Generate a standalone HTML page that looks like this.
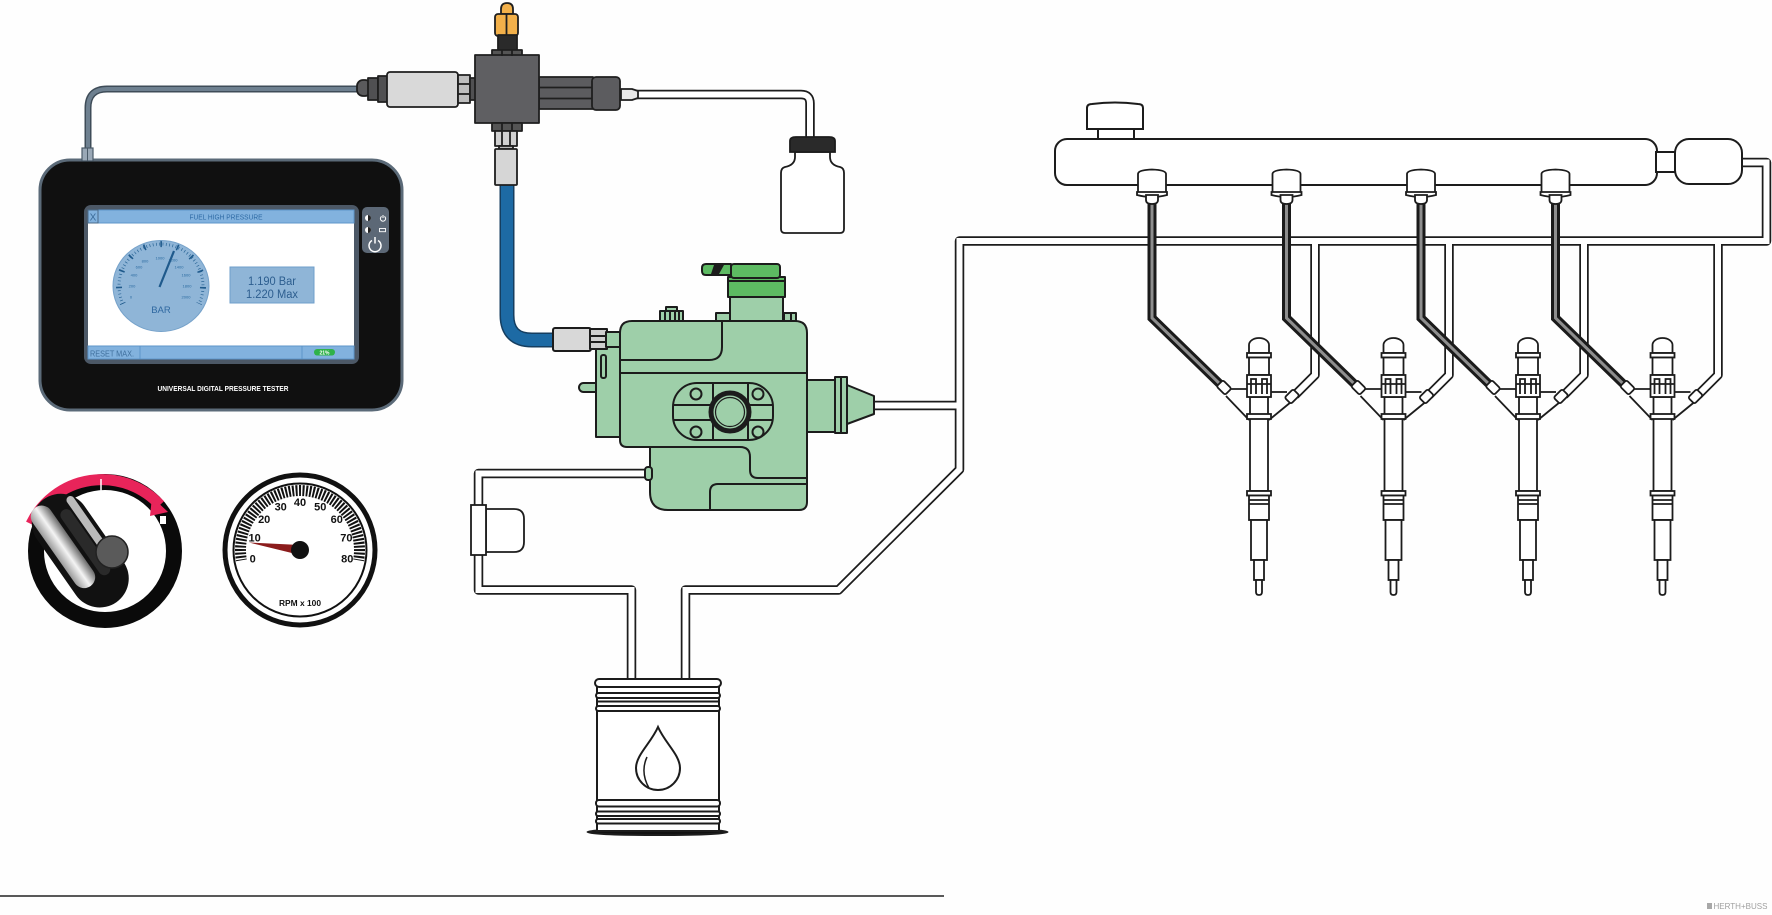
<!DOCTYPE html>
<html><head><meta charset="utf-8">
<style>
html,body{margin:0;padding:0;background:#fefefe;}
svg{display:block;}
text{font-family:"Liberation Sans",sans-serif;}
</style></head>
<body>
<svg width="1772" height="915" viewBox="0 0 1772 915" xmlns="http://www.w3.org/2000/svg">
<defs>
<linearGradient id="kg" x1="0" y1="0" x2="1" y2="0">
<stop offset="0" stop-color="#9a9a9a"/><stop offset="0.5" stop-color="#f4f4f4"/><stop offset="1" stop-color="#6a6a6a"/>
</linearGradient>
</defs>
<rect width="1772" height="915" fill="#fefefe"/>

<!-- ===== cable from tester ===== -->
<path d="M88 150 L88 108 Q88 89 107 89 L360 89" fill="none" stroke="#3e4c58" stroke-width="7"/>
<path d="M88 150 L88 108 Q88 89 107 89 L360 89" fill="none" stroke="#6e8090" stroke-width="4"/>

<!-- ===== tester ===== -->
<rect x="40" y="160" width="362" height="250" rx="30" fill="#101010" stroke="#5b6a78" stroke-width="3"/>
<rect x="82" y="148" width="11" height="13" fill="#9aa8b6" stroke="#4a5a68" stroke-width="1.2"/>
<line x1="87.5" y1="148" x2="87.5" y2="161" stroke="#4a5a68" stroke-width="1"/>
<rect x="84" y="205" width="275" height="159" rx="7" fill="#4c5866"/>
<rect x="88" y="210" width="266" height="149" fill="#fff"/>
<rect x="88" y="210" width="266" height="13" fill="#82b2de" stroke="#5d95c9" stroke-width="1"/>
<rect x="88" y="210" width="10" height="13" fill="#82b2de" stroke="#4a6b8a" stroke-width="1"/>
<text x="93" y="220.5" font-size="10" fill="#3a6a98" text-anchor="middle">X</text>
<text x="226" y="219.5" font-size="7.2" fill="#2e6aa4" text-anchor="middle" textLength="73" lengthAdjust="spacingAndGlyphs">FUEL HIGH PRESSURE</text>
<rect x="88" y="346" width="266" height="13" fill="#82b2de" stroke="#5d95c9" stroke-width="1"/>
<line x1="140" y1="346" x2="140" y2="359" stroke="#5d95c9"/>
<line x1="302" y1="346" x2="302" y2="359" stroke="#5d95c9"/>
<text x="90" y="356.5" font-size="8.5" fill="#3f6f9c" textLength="44" lengthAdjust="spacingAndGlyphs">RESET MAX.</text>
<rect x="314" y="349" width="21" height="6.5" rx="3.2" fill="#2fb24a"/>
<text x="324.5" y="354.4" font-size="5" fill="#fff" text-anchor="middle" font-weight="bold">21%</text>
<!-- screen gauge -->
<ellipse cx="161" cy="286" rx="48" ry="45.5" fill="#8fb5d7" stroke="#76a2ca" stroke-width="1"/>
<path d="M122.9 303.75 A42 42 0 1 1 199.1 303.75" fill="none" stroke="#2a6596" stroke-width="3" stroke-dasharray="0.7 2.6"/>
<path d="M122.9 303.75 A42 42 0 1 1 199.1 303.75" fill="none" stroke="#1f5a8c" stroke-width="6" stroke-dasharray="1.6 15.26" stroke-dashoffset="0.8"/>
<g font-size="4" fill="#2a6aa0" text-anchor="middle">
<text x="131" y="298.5">0</text><text x="132" y="287.5">200</text><text x="134" y="276.5">400</text>
<text x="139" y="268.5">600</text><text x="145" y="262.5">800</text><text x="160" y="259.5">1000</text>
<text x="173" y="261.5">1200</text><text x="179" y="268.5">1400</text><text x="186" y="276.5">1600</text>
<text x="187" y="287.5">1800</text><text x="186" y="298.5">2000</text>
</g>
<line x1="159.5" y1="287" x2="174" y2="251" stroke="#1f5a8c" stroke-width="2.2"/>
<text x="161" y="313" font-size="9.5" fill="#2f68a0" text-anchor="middle">BAR</text>
<rect x="230" y="267" width="84" height="36" fill="#8fb5d7" stroke="#6f9fcb" stroke-width="1"/>
<text x="272" y="285" font-size="11.5" fill="#2d5e8f" text-anchor="middle" textLength="48" lengthAdjust="spacingAndGlyphs">1.190 Bar</text>
<text x="272" y="298" font-size="11.5" fill="#2d5e8f" text-anchor="middle" textLength="52" lengthAdjust="spacingAndGlyphs">1.220 Max</text>
<!-- side panel -->
<rect x="362" y="207" width="27" height="46" rx="5" fill="#5c6876"/>
<circle cx="368" cy="218" r="3" fill="#fff"/><path d="M368 215 A3 3 0 0 1 368 221 Z" fill="#222"/>
<circle cx="368" cy="230" r="3" fill="#fff"/><path d="M368 227 A3 3 0 0 1 368 233 Z" fill="#222"/>
<path d="M381.6 216.4 A2.6 2.6 0 1 0 384.4 216.4" fill="none" stroke="#fff" stroke-width="1"/>
<line x1="383" y1="215" x2="383" y2="218" stroke="#fff" stroke-width="1"/>
<rect x="379.5" y="228.5" width="6" height="3.2" fill="none" stroke="#fff" stroke-width="0.9"/>
<path d="M372 240.5 A6 6 0 1 0 378 240.5" fill="none" stroke="#fff" stroke-width="1.5"/>
<line x1="375" y1="237" x2="375" y2="243.5" stroke="#fff" stroke-width="1.5"/>
<text x="223" y="391" font-size="7.5" fill="#fff" font-weight="bold" text-anchor="middle" textLength="131" lengthAdjust="spacingAndGlyphs">UNIVERSAL DIGITAL PRESSURE TESTER</text>

<!-- ===== blue hose ===== -->
<path d="M507 183 L507 315 Q507 340 532 340 L556 340" fill="none" stroke="#153e60" stroke-width="15"/>
<path d="M507 183 L507 315 Q507 340 532 340 L556 340" fill="none" stroke="#1d6aa4" stroke-width="12"/>

<!-- ===== white tubes (return network) ===== -->
<g fill="none" stroke="#1c1c1c" stroke-width="9.5" stroke-linejoin="round">
<path d="M636 94.5 L801 94.5 Q810 94.5 810 103.5 L810 139"/>
<path d="M648 473.5 L478.5 473.5 L478.5 590 L631.5 590 L631.5 681"/>
<path d="M685.5 681 L685.5 590 L838.5 590 L959.5 469.5 L959.5 241 L1766.5 241 L1766.5 162.5 L1740 162.5"/>
<path d="M874 405.5 L959.5 405.5"/>
<path d="M1315 241 L1315 375 L1295 395"/>
<path d="M1449 241 L1449 375 L1429 395"/>
<path d="M1584 241 L1584 375 L1564 395"/>
<path d="M1718 241 L1718 375 L1698 395"/>
</g>
<g fill="none" stroke="#fff" stroke-width="6" stroke-linejoin="miter">
<path d="M636 94.5 L801 94.5 Q810 94.5 810 103.5 L810 139"/>
<path d="M648 473.5 L478.5 473.5 L478.5 590 L631.5 590 L631.5 681"/>
<path d="M685.5 681 L685.5 590 L838.5 590 L959.5 469.5 L959.5 241 L1766.5 241 L1766.5 162.5 L1740 162.5"/>
<path d="M874 405.5 L959.5 405.5"/>
<path d="M1315 241 L1315 375 L1295 395"/>
<path d="M1449 241 L1449 375 L1429 395"/>
<path d="M1584 241 L1584 375 L1564 395"/>
<path d="M1718 241 L1718 375 L1698 395"/>
</g>

<!-- filter on return line -->
<g stroke="#1c1c1c" stroke-width="1.8" fill="#fff">
<path d="M486 509 L514 509 Q524 509 524 519 L524 542 Q524 552 514 552 L486 552 Z"/>
<rect x="471" y="505" width="15" height="50"/>
</g>

<!-- ===== T-block ===== -->
<g stroke="#1f1f1f" stroke-width="1.8" stroke-linejoin="round">
<path d="M507 3 Q513 3 513 9 L513 14 L501 14 L501 9 Q501 3 507 3 Z" fill="#f2b04a"/>
<rect x="495" y="14" width="23" height="22" rx="3" fill="#f2b04a"/>
<line x1="506.5" y1="14" x2="506.5" y2="36"/>
<rect x="498" y="35" width="19" height="15" fill="#2a2a2a"/>
<rect x="492" y="50" width="30" height="6" fill="#555"/>
<rect x="357" y="80" width="14" height="16" rx="6" fill="#5a5a5c"/>
<rect x="368" y="78" width="10" height="22" fill="#505052"/>
<rect x="378" y="76" width="10" height="26" fill="#505052"/>
<rect x="387" y="72" width="71" height="35" rx="3" fill="#d9d9d9"/>
<rect x="458" y="75" width="12" height="28" fill="#bdbdbd"/>
<line x1="458" y1="84" x2="470" y2="84"/><line x1="458" y1="94" x2="470" y2="94"/>
<rect x="470" y="78" width="6" height="22" fill="#505052"/>
<rect x="539" y="77" width="54" height="32" fill="#5c5c5f"/>
<line x1="539" y1="87.5" x2="593" y2="87.5"/><line x1="539" y1="98.5" x2="593" y2="98.5"/>
<rect x="592" y="77" width="28" height="33" rx="4" fill="#5c5c5f"/>
<path d="M621 89 L632 89 L638 91 L638 98 L632 100 L621 100 Z" fill="#e8e8e8"/>
<rect x="475" y="55" width="64" height="68" fill="#5f5f62"/>
<rect x="492" y="123" width="30" height="8" fill="#555"/>
<line x1="502" y1="123" x2="502" y2="131"/><line x1="512" y1="123" x2="512" y2="131"/>
<line x1="502" y1="50" x2="502" y2="56"/><line x1="512" y1="50" x2="512" y2="56"/>
<rect x="495" y="131" width="22" height="15" fill="#d0d0d0"/>
<line x1="502" y1="131" x2="502" y2="146"/><line x1="510" y1="131" x2="510" y2="146"/>
<rect x="499" y="146" width="14" height="3" fill="#bbb"/>
<rect x="495" y="149" width="22" height="36" rx="1" fill="#d6d6d6"/>
</g>

<!-- bottle -->
<g stroke="#1c1c1c" stroke-width="1.8">
<path d="M795 152 L795 157 Q795 165 785 167 Q781 168 781 173 L781 229 Q781 233 785 233 L840 233 Q844 233 844 229 L844 173 Q844 168 840 167 Q830 165 830 157 L830 152 Z" fill="#fff"/>
<path d="M790 152 L790 141 Q790 137 796 137 L829 137 Q835 137 835 141 L835 152 Z" fill="#2a2a2a"/>
</g>

<!-- ===== pump ===== -->
<g stroke="#1c1c1c" stroke-width="2" stroke-linejoin="round" fill="#9ecfa9">
<rect x="579" y="383" width="44" height="9" rx="4.5"/>
<path d="M620 342 L603 342 Q596 342 596 349 L596 437 L620 437 Z"/>
<rect x="601" y="355" width="5" height="23" rx="2"/>
<rect x="553" y="328" width="38" height="23" rx="2" fill="#d8d8d8"/>
<rect x="590" y="329" width="17" height="20" fill="#cfcfcf"/>
<line x1="590" y1="336" x2="607" y2="336"/><line x1="590" y1="342" x2="607" y2="342"/>
<rect x="606" y="332" width="15" height="15"/>
<!-- bolts -->
<rect x="666" y="307" width="11" height="6"/>
<rect x="660" y="311" width="23" height="11"/>
<line x1="665" y1="311" x2="665" y2="321"/><line x1="670" y1="311" x2="670" y2="321"/><line x1="675" y1="311" x2="675" y2="321"/><line x1="679" y1="311" x2="679" y2="321"/>
<rect x="716" y="313" width="15" height="9"/>
<rect x="779" y="313" width="17" height="9"/>
<line x1="784" y1="313" x2="784" y2="321"/><line x1="791" y1="313" x2="791" y2="321"/>
<!-- neck & cap -->
<rect x="730" y="295" width="53" height="27"/>
<rect x="728" y="277" width="57" height="20" fill="#5dba62"/>
<line x1="728" y1="281" x2="785" y2="281"/>
<rect x="731" y="264" width="49" height="14" rx="3" fill="#5dba62"/>
<path d="M706 264 Q702 264 702 268 L702 271 Q702 275 706 275 L731 275 L731 264 Z" fill="#5dba62"/>
<path d="M714 265 L724 265 L719 274 L711 274 Z" fill="#1c1c1c" stroke="none"/>
<!-- body -->
<path d="M620 333 Q620 321 632 321 L795 321 Q807 321 807 333 L807 502 Q807 510 799 510 L668 510 Q650 510 650 492 L650 447 L627 447 Q620 447 620 440 Z"/>
<path d="M620 373 L807 373" fill="none"/>
<path d="M722 321 L722 347 Q722 360 709 360 L620 360" fill="none"/>
<path d="M650 447 L740 447 Q750 447 750 457 L750 470 Q750 478 758 478 L807 478" fill="none"/>
<path d="M710 510 L710 492 Q710 484 718 484 L807 484" fill="none"/>
<!-- flange plate -->
<rect x="673" y="383" width="100" height="57" rx="24"/>
<line x1="713" y1="383" x2="713" y2="440"/><line x1="748" y1="383" x2="748" y2="440"/>
<line x1="673" y1="405" x2="713" y2="405"/><line x1="673" y1="420" x2="713" y2="420"/>
<line x1="748" y1="405" x2="773" y2="405"/><line x1="748" y1="420" x2="773" y2="420"/>
<circle cx="696" cy="394" r="5.5"/><circle cx="758" cy="394" r="5.5"/>
<circle cx="696" cy="432" r="5.5"/><circle cx="758" cy="432" r="5.5"/>
<circle cx="730" cy="412" r="19" stroke-width="5"/>
<circle cx="730" cy="412" r="14.5" stroke-width="1.2"/>
<!-- right nose -->
<rect x="807" y="380" width="28" height="52"/>
<rect x="835" y="377" width="12" height="56"/>
<line x1="841" y1="377" x2="841" y2="433"/>
<path d="M847 385 L874 396 L874 414 L847 424 Z"/>
<rect x="645" y="467" width="7" height="13" rx="3"/>
</g>

<!-- ===== tank ===== -->
<g stroke="#1c1c1c" stroke-width="2" fill="#fff">
<ellipse cx="657.5" cy="832" rx="70" ry="3" fill="#111"/>
<rect x="597" y="685" width="122" height="146"/>
<rect x="595" y="679" width="126" height="8" rx="4"/>
<rect x="596" y="693" width="124" height="5" rx="2.5"/>
<line x1="597" y1="701.5" x2="719" y2="701.5"/>
<rect x="596" y="706" width="124" height="5" rx="2.5"/>
<rect x="596" y="800" width="124" height="6.5" rx="3"/>
<rect x="596" y="811.5" width="124" height="4.5" rx="2"/>
<rect x="596" y="819" width="124" height="4.5" rx="2"/>
<path d="M658 727 C651 743 636 755 636 768 A22 22 0 0 0 680 768 C680 755 665 743 658 727 Z"/>
<path d="M647 757 Q640 772 649 788" fill="none" stroke-width="1.5"/>
</g>

<!-- ===== rail ===== -->
<g stroke="#1c1c1c" stroke-width="2" fill="#fff">
<path d="M1087 129 L1087 108 Q1087 104 1092 104 Q1115 101 1138 104 Q1143 104 1143 108 L1143 129 Z"/>
<rect x="1098" y="129" width="36" height="10"/>
<rect x="1055" y="139" width="602" height="46" rx="12"/>
<rect x="1656" y="152" width="19" height="20"/>
<rect x="1675" y="139" width="67" height="45" rx="14"/>
</g>

<!-- HP pipes -->
<g fill="none" stroke-linejoin="miter">
<path d="M1152 200 L1152 318 L1222 386" stroke="#1a1a1a" stroke-width="9"/>
<path d="M1286.5 200 L1286.5 318 L1356.5 386" stroke="#1a1a1a" stroke-width="9"/>
<path d="M1421 200 L1421 318 L1491 386" stroke="#1a1a1a" stroke-width="9"/>
<path d="M1555.5 200 L1555.5 318 L1625.5 386" stroke="#1a1a1a" stroke-width="9"/>
<path d="M1152 200 L1152 318 L1222 386" stroke="#8e8e8e" stroke-width="3"/>
<path d="M1286.5 200 L1286.5 318 L1356.5 386" stroke="#8e8e8e" stroke-width="3"/>
<path d="M1421 200 L1421 318 L1491 386" stroke="#8e8e8e" stroke-width="3"/>
<path d="M1555.5 200 L1555.5 318 L1625.5 386" stroke="#8e8e8e" stroke-width="3"/>
</g>

<!-- rail connectors -->
<g stroke="#1c1c1c" stroke-width="1.8" fill="#fff">
<g transform="translate(1152 0)">
<path d="M-14 193 L-14 174 Q-14 170 0 169.5 Q14 170 14 174 L14 193 Z"/>
<path d="M-15 192 L15 192 L15 195 Q0 199 -15 195 Z"/>
<path d="M-6 195 L-6 200 Q-6 204 0 204 Q6 204 6 200 L6 195 Z"/>
</g>
<g transform="translate(1286.5 0)">
<path d="M-14 193 L-14 174 Q-14 170 0 169.5 Q14 170 14 174 L14 193 Z"/>
<path d="M-15 192 L15 192 L15 195 Q0 199 -15 195 Z"/>
<path d="M-6 195 L-6 200 Q-6 204 0 204 Q6 204 6 200 L6 195 Z"/>
</g>
<g transform="translate(1421 0)">
<path d="M-14 193 L-14 174 Q-14 170 0 169.5 Q14 170 14 174 L14 193 Z"/>
<path d="M-15 192 L15 192 L15 195 Q0 199 -15 195 Z"/>
<path d="M-6 195 L-6 200 Q-6 204 0 204 Q6 204 6 200 L6 195 Z"/>
</g>
<g transform="translate(1555.5 0)">
<path d="M-14 193 L-14 174 Q-14 170 0 169.5 Q14 170 14 174 L14 193 Z"/>
<path d="M-15 192 L15 192 L15 195 Q0 199 -15 195 Z"/>
<path d="M-6 195 L-6 200 Q-6 204 0 204 Q6 204 6 200 L6 195 Z"/>
</g>
</g>

<!-- injectors -->
<defs>
<g id="inj" stroke="#1c1c1c" stroke-width="1.8" fill="#fff">
<path d="M-12 389 L-30 389" fill="none"/>
<path d="M-33 396 L-10 420" fill="none"/>
<path d="M12 392 L28 392" fill="none"/>
<path d="M32 402 L10 420" fill="none"/>
<path d="M-10 353 L-10 345 A10 7 0 0 1 10 345 L10 353 Z"/>
<rect x="-12" y="353" width="24" height="4.5"/>
<rect x="-10" y="357.5" width="20" height="17.5"/>
<rect x="-9" y="397" width="18" height="94"/>
<rect x="-12" y="375" width="24" height="22"/>
<path d="M-8 394 L-8 379 L-3 379 L-3 394 M3 394 L3 379 L8 379 L8 394" fill="none"/>
<line x1="-12" y1="384" x2="12" y2="384"/>
<rect x="-12" y="414" width="24" height="5"/>
<rect x="-12" y="491" width="24" height="4.5"/>
<rect x="-10" y="495.5" width="20" height="24.5"/>
<line x1="-10" y1="500" x2="10" y2="500"/><line x1="-10" y1="504" x2="10" y2="504"/>
<rect x="-8" y="520" width="16" height="40"/>
<rect x="-5" y="560" width="10" height="20"/>
<path d="M-3 580 L-3 592 Q-3 595 0 595 Q3 595 3 592 L3 580 Z"/>
<rect x="-41" y="383" width="12" height="9" rx="2" transform="rotate(45 -35 387.5)"/>
<rect x="27" y="392" width="12" height="9" rx="2" transform="rotate(-45 33 396.5)"/>
</g>
</defs>
<use href="#inj" x="1259" y="0"/>
<use href="#inj" x="1393.5" y="0"/>
<use href="#inj" x="1528" y="0"/>
<use href="#inj" x="1662.5" y="0"/>

<!-- ===== ignition key ===== -->
<circle cx="105" cy="551" r="69" fill="#fff" stroke="#0a0a0a" stroke-width="16"/>
<path d="M31 524 A79 79 0 0 1 160 505" fill="none" stroke="#e8245a" stroke-width="11"/>
<path d="M152 497 L168 512 L150 516 Z" fill="#e8245a"/>
<line x1="101" y1="479" x2="101" y2="492" stroke="#fff" stroke-width="1.5"/>
<rect x="160" y="516" width="6" height="8" fill="#fff"/>
<g transform="rotate(-35 80 552)">
<rect x="52" y="488" width="58" height="126" rx="29" fill="#111"/>
<rect x="58" y="490" width="22" height="96" rx="11" fill="url(#kg)"/>
<rect x="84" y="508" width="12" height="78" rx="6" fill="#2a2a2a"/>
<rect x="98" y="500" width="8" height="80" rx="4" fill="#bbb"/>
</g>
<circle cx="112" cy="552" r="16" fill="#5a5a5a" stroke="#222" stroke-width="1.5"/>

<!-- ===== tachometer ===== -->
<circle cx="300" cy="550" r="75" fill="#fff" stroke="#111" stroke-width="5"/>
<circle cx="300" cy="550" r="66.5" fill="none" stroke="#111" stroke-width="2"/>
<path d="M241.4 560.33 A59.5 59.5 0 1 1 358.6 560.33" fill="none" stroke="#111" stroke-width="11" stroke-dasharray="2 1.46" stroke-dashoffset="1"/>
<g font-size="11" font-weight="bold" fill="#111" text-anchor="middle">
<text x="252.7" y="562.3">0</text>
<text x="254.6" y="541.6">10</text>
<text x="264.2" y="523.1">20</text>
<text x="280.7" y="510.5">30</text>
<text x="300" y="506">40</text>
<text x="320.3" y="510.5">50</text>
<text x="336.8" y="523.1">60</text>
<text x="346.4" y="541.6">70</text>
<text x="347.3" y="562.3">80</text>
</g>
<path d="M300 545 L300 555 L249 542.5 Z" fill="#8b1c1c"/>
<circle cx="300" cy="550" r="9" fill="#111"/>
<text x="300" y="606" font-size="8" font-weight="bold" fill="#111" text-anchor="middle" textLength="42" lengthAdjust="spacingAndGlyphs">RPM x 100</text>

<!-- bottom line & logo -->
<line x1="0" y1="896" x2="944" y2="896" stroke="#222" stroke-width="1.5"/>
<rect x="1707" y="903" width="5" height="6" fill="#a8a8a8"/>
<text x="1713.5" y="909" font-size="8.5" fill="#a0a0a0" textLength="54" lengthAdjust="spacingAndGlyphs">HERTH+BUSS</text>
</svg>
</body></html>
